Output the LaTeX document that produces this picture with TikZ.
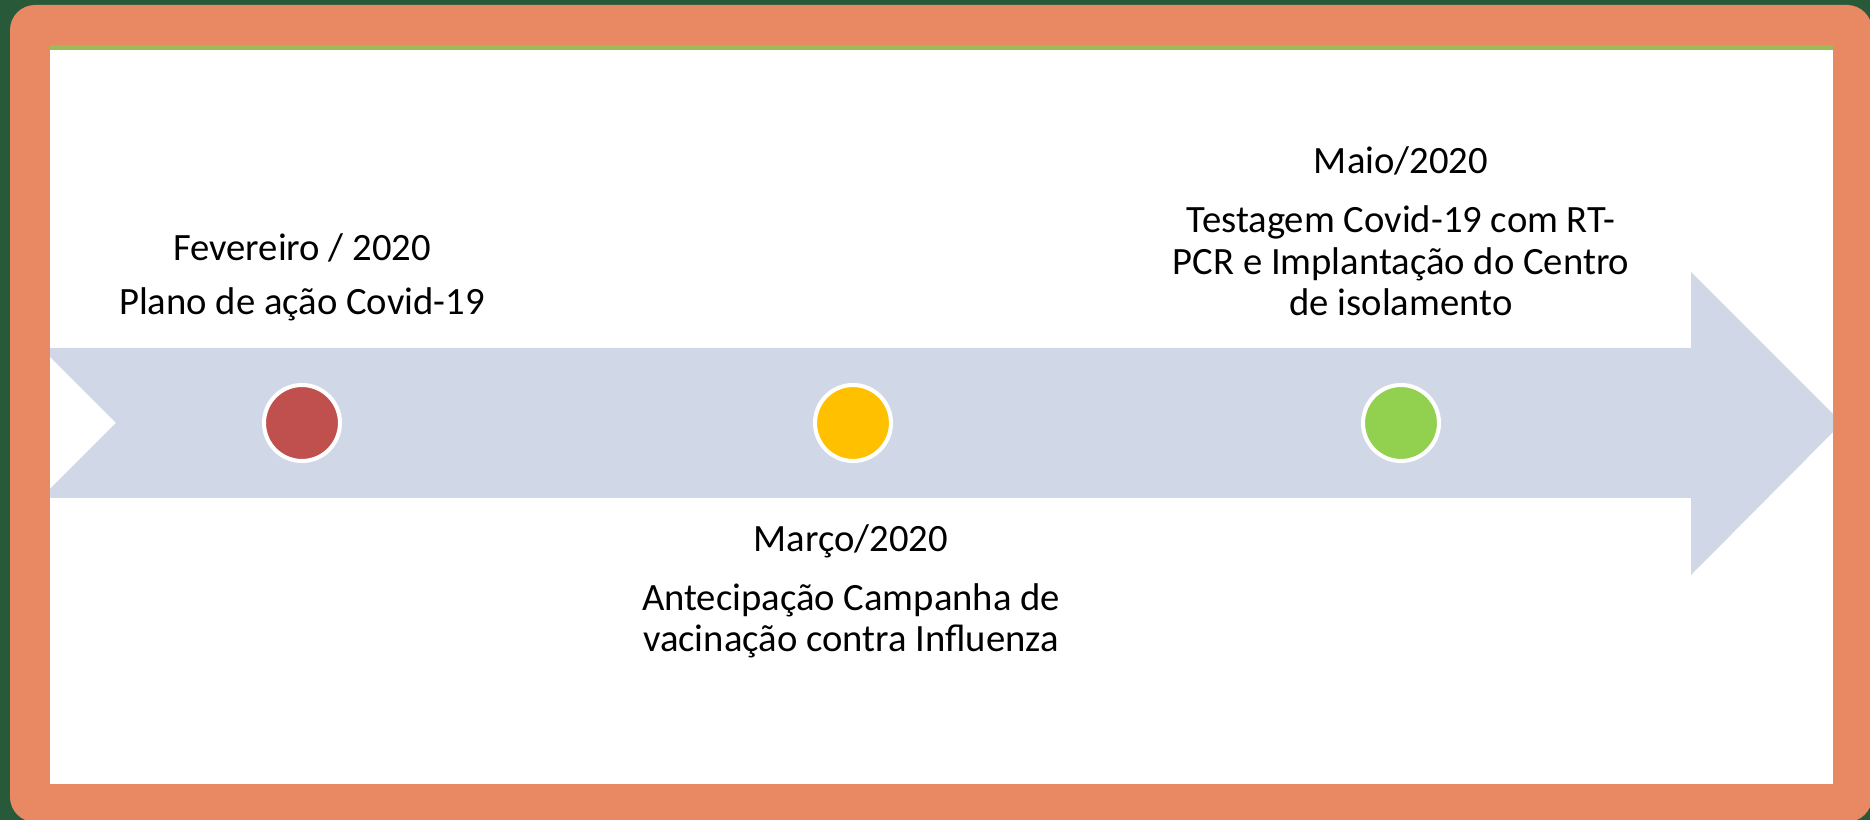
\documentclass[tikz,border=0pt]{standalone}
\usepackage{fontspec}
\setmainfont{Carlito}
\definecolor{fundo}{HTML}{285A3A}
\definecolor{moldura}{HTML}{E88963}
\definecolor{faixa}{HTML}{9BBB59}
\definecolor{seta}{HTML}{D0D8E8}
\definecolor{vermelho}{HTML}{C0504D}
\definecolor{amarelo}{HTML}{FFC000}
\definecolor{verde}{HTML}{92D050}
\tikzset{
  ponto/.style={circle,draw=white,line width=2.3pt,minimum size=1.52cm,inner sep=0pt},
  rotulo/.style={align=center,font=\fontsize{22}{23.6}\selectfont,inner sep=0pt}
}
\begin{document}
\begin{tikzpicture}[x=0.02cm,y=-0.02cm]
\useasboundingbox (0,0) rectangle (1870,820);
\fill[fundo] (0,0) rectangle (1870,820);
\fill[moldura,rounded corners=0.5cm] (10,5) rectangle (1872,822);
\fill[white] (50,50) rectangle (1833,784);
\fill[faixa] (50,45) rectangle (1833,50);
% seta da linha do tempo
\begin{scope}
\clip (50,50) rectangle (1833,784);
\fill[seta] (41,348) -- (1691,348) -- (1691,272) -- (1842,423) -- (1691,575)
  -- (1691,498) -- (41,498) -- (116,423) -- cycle;
\end{scope}
\node[ponto,fill=vermelho] (P1) at (302,423) {};
\node[ponto,fill=amarelo] (P2) at (853,423) {};
\node[ponto,fill=verde] (P3) at (1401,423) {};
\node[rotulo] (D1) at (302,248) {Fevereiro / 2020};
\node[rotulo] (T1) at (302,304) {Plano de ação Covid-19};
\node[rotulo] (D2) at (851,541) {Março/2020};
\node[rotulo] (T2) at (851,621) {Antecipação Campanha de\\vacinação contra Influenza};
\node[rotulo] (D3) at (1401,161) {Maio/2020};
\node[rotulo] (T3) at (1401,261) {Testagem Covid-19 com RT-\\PCR e Implantação do Centro\\de isolamento};
\end{tikzpicture}
\end{document}
